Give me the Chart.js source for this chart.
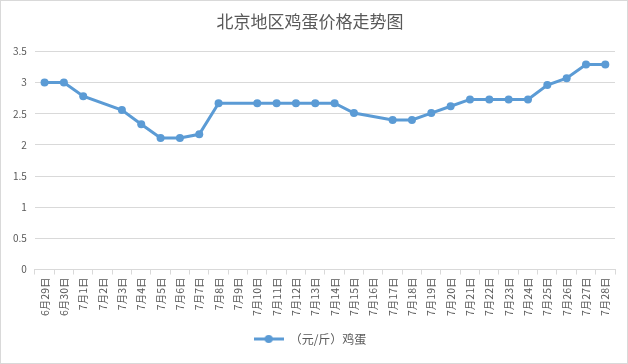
<!DOCTYPE html>
<html>
<head>
<meta charset="utf-8">
<script src="https://cdn.jsdelivr.net/npm/chart.js@4"></script>
<style>
  html, body { margin: 0; padding: 0; background: #fff; }
  #box { width: 626px; height: 362px; border: 1px solid #d9d9d9; position: relative; }
</style>
</head>
<body>
<div id="box"><canvas id="chart"></canvas></div>
<script>
// x categories (dates)
var categories = ['6月29日','6月30日','7月1日','7月2日','7月3日','7月4日','7月5日','7月6日','7月7日','7月8日',
  '7月9日','7月10日','7月11日','7月12日','7月13日','7月14日','7月15日','7月16日','7月17日','7月18日',
  '7月19日','7月20日','7月21日','7月22日','7月23日','7月24日','7月25日','7月26日','7月27日','7月28日'];
// egg price, yuan per jin (null = no quote that day)
var eggPrices = [3.0, 3.0, 2.78, null, 2.56, 2.33, 2.11, 2.11, 2.17, 2.67,
  null, 2.67, 2.67, 2.67, 2.67, 2.67, 2.51, null, 2.4, 2.4,
  2.51, 2.62, 2.73, 2.73, 2.73, 2.73, 2.96, 3.07, 3.29, 3.29];
var yMin = 0, yMax = 3.5, yStep = 0.5;

var blue = '#5b9bd5';
var grey = '#595959';
var font = '"Microsoft YaHei", "Noto Sans CJK SC", sans-serif';

// legend marker: line with a dot in the middle
var marker = document.createElement('canvas');
marker.width = 30; marker.height = 10;
var mc = marker.getContext('2d');
mc.strokeStyle = blue; mc.lineWidth = 3;
mc.beginPath(); mc.moveTo(0, 5); mc.lineTo(30, 5); mc.stroke();
mc.fillStyle = blue;
mc.beginPath(); mc.arc(15, 5, 4, 0, Math.PI * 2); mc.fill();

Chart.defaults.font.family = font;
Chart.defaults.color = grey;

new Chart(document.getElementById('chart'), {
  type: 'line',
  data: {
    labels: categories,
    datasets: [{
      label: '（元/斤）鸡蛋',
      data: eggPrices,
      borderColor: blue,
      backgroundColor: blue,
      borderWidth: 3,
      pointRadius: 4,
      pointBackgroundColor: blue,
      pointBorderWidth: 0,
      spanGaps: true,
      tension: 0
    }]
  },
  options: {
    responsive: true,
    maintainAspectRatio: false,
    animation: false,
    layout: { padding: { left: 4, right: 12, top: 4, bottom: 8 } },
    plugins: {
      title: {
        display: true,
        text: '北京地区鸡蛋价格走势图',
        color: grey,
        font: { size: 17, weight: 'normal' },
        padding: { top: 6, bottom: 20 }
      },
      legend: {
        position: 'bottom',
        labels: {
          usePointStyle: true,
          pointStyle: marker,
          pointStyleWidth: 30,
          color: grey,
          font: { size: 12 },
          padding: 14
        }
      },
      tooltip: { enabled: false }
    },
    scales: {
      x: {
        offset: true,
        grid: { offset: true, drawOnChartArea: false, drawTicks: true, tickLength: 5, color: '#d9d9d9' },
        border: { color: '#d9d9d9' },
        ticks: { autoSkip: false, maxRotation: 90, minRotation: 90, font: { size: 10.5 }, color: grey, padding: 3 }
      },
      y: {
        min: yMin,
        max: yMax,
        grid: { color: '#d9d9d9', drawTicks: false },
        border: { display: false },
        ticks: {
          stepSize: yStep,
          padding: 8,
          font: { size: 10 },
          color: grey,
          callback: function (v) { return String(v); }
        }
      }
    }
  }
});
</script>
</body>
</html>
